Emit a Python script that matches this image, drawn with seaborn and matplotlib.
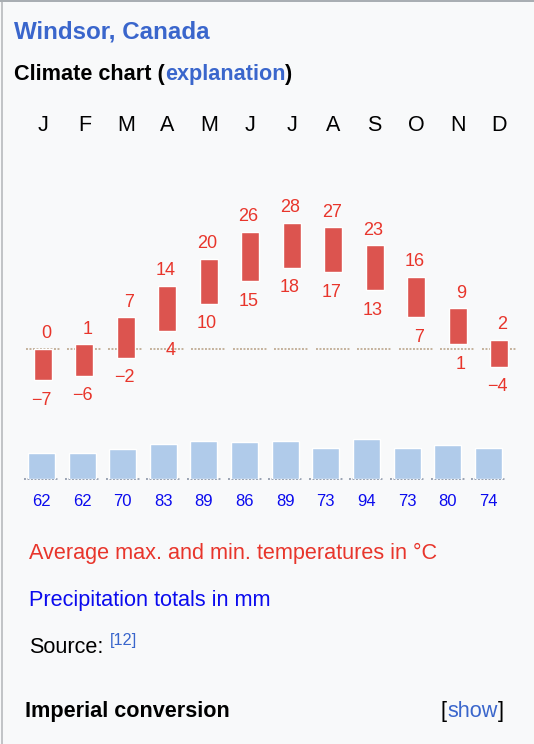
import numpy as np
import pandas as pd
import seaborn as sns
import matplotlib.pyplot as plt
from matplotlib.patches import Rectangle

# climate data for Windsor
months = ["Jan", "Feb", "Mar", "Apr", "May", "Jun", "Jul", "Aug", "Sep", "Oct", "Nov", "Dec"]
month_letters = ["J", "F", "M", "A", "M", "J", "J", "A", "S", "O", "N", "D"]
temp_max = [0, 1, 7, 14, 20, 26, 28, 27, 23, 16, 9, 2]
temp_min = [-7, -6, -2, 4, 10, 15, 18, 17, 13, 7, 1, -4]
precip = [62, 62, 70, 83, 89, 86, 89, 73, 94, 73, 80, 74]

sns.set_style("white")
plt.rcParams["font.family"] = ["Liberation Sans", "DejaVu Sans"]

W, H = 534, 744
BG = "#f8f9fa"
RED_BAR = "#dc544f"
RED_TXT = "#e8352b"
BLUE_BAR = "#b0cbea"
LINK = "#3a66cc"

temp = pd.DataFrame({"month": months, "tmax": temp_max, "tmin": temp_min})
temp["range"] = temp["tmax"] - temp["tmin"]
rain = pd.DataFrame({"month": months, "precip": precip})
pos = np.arange(len(months))
zeros = np.zeros(len(months))

fig = plt.figure(figsize=(W / 100, H / 100), dpi=100, facecolor=BG)


def px_axes(x0, y0, x1, y1):
    """Add axes given pixel box (top-left origin)."""
    return fig.add_axes([x0 / W, 1 - y1 / H, (x1 - x0) / W, (y1 - y0) / H])


def px_text(x, y, s, **kw):
    return fig.text(x / W, 1 - y / H, s, **kw)


def px_chain(x, y, parts, **kw):
    """Write text pieces one after another on the same baseline."""
    r = fig.canvas.get_renderer()
    for s, color in parts:
        t = px_text(x, y, s, color=color, va="baseline", **kw)
        x = t.get_window_extent(r).x1


# temperature panel
ax = px_axes(22.25, 150, 519.75, 420)
ax.set_facecolor("none")
sns.barplot(data=temp, x="month", y="range", bottom=temp["tmin"], color=RED_BAR,
            width=0.434, saturation=1, ax=ax, zorder=3)
ax.hlines(zeros, pos - 0.42, pos + 0.42, colors="#c4b29c",
          linestyles=(0, (1, 0.8)), linewidth=1.4, zorder=1)
for i, (hi, lo) in enumerate(zip(temp_max, temp_min)):
    ax.annotate(str(hi).replace("-", "\u2212"), (i, hi), xytext=(6.0, 7.6),
                textcoords="offset points", ha="right", va="baseline",
                color=RED_TXT, fontsize=13)
    ax.annotate(str(lo).replace("-", "\u2212"), (i, lo), xytext=(6.0, -17.3),
                textcoords="offset points", ha="right", va="baseline",
                color=RED_TXT, fontsize=13)
ax.set_xlim(-0.5, 11.5)
ax.set_ylim(-15.78, 44.22)
ax.set_xlabel("")
ax.set_ylabel("")
ax.set_yticks([])
ax.xaxis.tick_top()
ax.set_xticks(pos)
ax.set_xticklabels(month_letters, fontsize=15.5, color="black")
ax.tick_params(axis="x", length=0, pad=9.8)
sns.despine(ax=ax, left=True, bottom=True)

# precipitation panel
ax2 = px_axes(21.2, 420, 508.6, 479)
ax2.set_facecolor("none")
sns.barplot(data=rain, x="month", y="precip", color=BLUE_BAR, width=0.665,
            saturation=1, ax=ax2, zorder=3)
ax2.hlines(zeros, pos - 0.42, pos + 0.42, colors="#9aa3b3",
           linestyles=(0, (1, 0.8)), linewidth=1.4, zorder=1, clip_on=False)
ax2.set_xlim(-0.5, 11.5)
ax2.set_ylim(0, 138.8)
ax2.set_xlabel("")
ax2.set_ylabel("")
ax2.set_yticks([])
ax2.set_xticks(pos)
ax2.set_xticklabels([str(v) for v in precip], fontsize=12, color="#0b0bee")
ax2.tick_params(axis="x", length=0, pad=10.6)
sns.despine(ax=ax2, left=True, bottom=True)

# header and footer texts
fig.canvas.draw()
px_text(14, 38.5, "Windsor, Canada", fontsize=17.4, fontweight="bold", color=LINK, va="baseline")
px_chain(14, 80, [("Climate chart (", "black"), ("explanation", LINK), (")", "black")],
         fontsize=15.6, fontweight="bold")

px_text(29, 559.3, "Average max. and min. temperatures in \u00b0C", fontsize=15.6,
        color=RED_TXT, va="baseline")
px_text(29, 606, "Precipitation totals in mm", fontsize=15.6, color="#0b0bee", va="baseline")
px_text(29, 652.7, "Source:", fontsize=15.6, color="black", va="baseline")
px_text(110, 645, "[12]", fontsize=11.8, color=LINK, va="baseline")
px_text(25, 716.7, "Imperial conversion", fontsize=15.6, fontweight="bold",
        color="black", va="baseline")
px_chain(441, 716.7, [("[", "black"), ("show", LINK), ("]", "black")], fontsize=15.6)

# box borders
fig.add_artist(Rectangle((1 / W, 0), 2 / W, 1, transform=fig.transFigure,
                         color="#c2c4c7", lw=0))
fig.add_artist(Rectangle((0, 1 - 1.5 / H), 1, 1.5 / H, transform=fig.transFigure,
                         color="#a9aeb3", lw=0))

fig.savefig("out.png", dpi=100, facecolor=BG)
